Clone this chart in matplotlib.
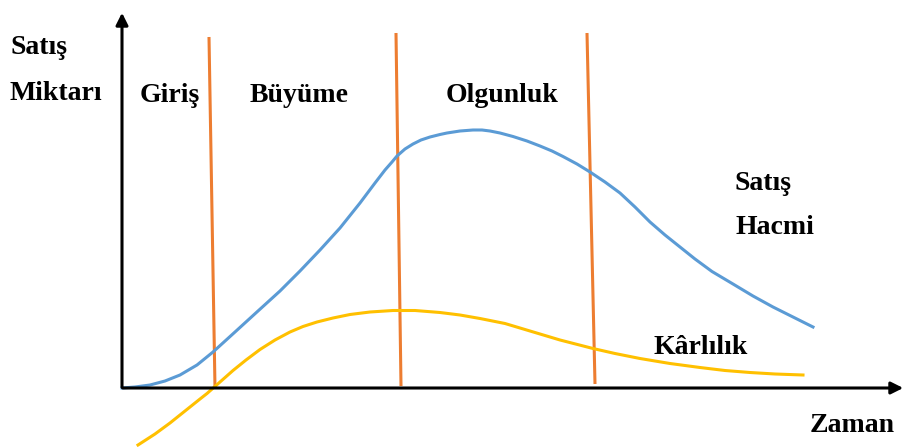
import matplotlib.pyplot as plt

# pixel-like coordinates (x right, y down)
sales_x = [122, 135, 150, 165, 180, 197, 213, 235, 258, 280, 300, 320, 340, 360, 375, 385, 392, 397, 405, 413, 421, 430, 440, 447, 460, 473, 482, 490, 500, 513, 527, 540, 552, 563, 577, 590, 605, 620, 635, 650, 665, 680, 695, 712, 733, 753, 773, 793, 813]
sales_y = [388, 387, 385, 381, 375, 365, 352, 332, 311, 291, 271, 250, 228, 203, 183, 170, 162, 156, 149, 144, 140, 137, 134.5, 133, 131, 130, 130, 131, 133, 136.5, 141, 146, 151, 156.5, 164, 172, 182, 193, 207, 222, 235, 247, 259, 271.5, 284, 296, 307, 317, 327]

profit_x = [138, 155, 170, 185, 200, 207, 220, 233, 246, 260, 275, 290, 303, 317, 333, 350, 370, 393, 415, 440, 460, 480, 505, 530, 560, 593, 615, 640, 670, 700, 725, 750, 775, 803]
profit_y = [445, 434, 423, 411, 399, 393.5, 382, 370.5, 360, 349.5, 340, 332, 326.5, 322, 318, 314.5, 312, 310.5, 310.5, 312.5, 315, 318.5, 323.5, 331, 340, 348.5, 353.5, 358.5, 363.5, 367.5, 370.5, 372.5, 374, 375]

stage_lines = [((209, 37), (215, 388)), ((396, 33), (401, 386)), ((587, 33), (595, 384))]

labels = [
    ("Satış", 10, 48), ("Miktarı", 10, 93),
    ("Giriş", 140, 96), ("Büyüme", 250, 96), ("Olgunluk", 446, 96),
    ("Satış", 735, 183), ("Hacmi", 735, 228),
    ("Kârlılık", 653, 347), ("Zaman", 810, 425),
]

fig = plt.figure(figsize=(9.07, 4.48), dpi=100)
ax = fig.add_axes([0, 0, 1, 1])
ax.set_xlim(0, 907)
ax.set_ylim(448, 0)
ax.axis('off')

# axes with arrows
ax.annotate('', xy=(122, 10), xytext=(122, 390),
            arrowprops=dict(arrowstyle='-|>', color='black', lw=2.2, mutation_scale=18))
ax.annotate('', xy=(906, 388), xytext=(120, 388),
            arrowprops=dict(arrowstyle='-|>', color='black', lw=2.2, mutation_scale=18))

for (x0, y0), (x1, y1) in stage_lines:
    ax.plot([x0, x1], [y0, y1], color='#ED7D31', lw=2.2, solid_capstyle='butt')

ax.plot(sales_x, sales_y, color='#5B9BD5', lw=2.2, solid_joinstyle='round')
ax.plot(profit_x, profit_y, color='#FFC000', lw=2.2, solid_joinstyle='round')

for text, x, y in labels:
    ax.text(x, y, text, fontsize=20, fontweight='bold', family='Liberation Serif',
            ha='left', va='center')

fig.savefig('out.png', dpi=100)
